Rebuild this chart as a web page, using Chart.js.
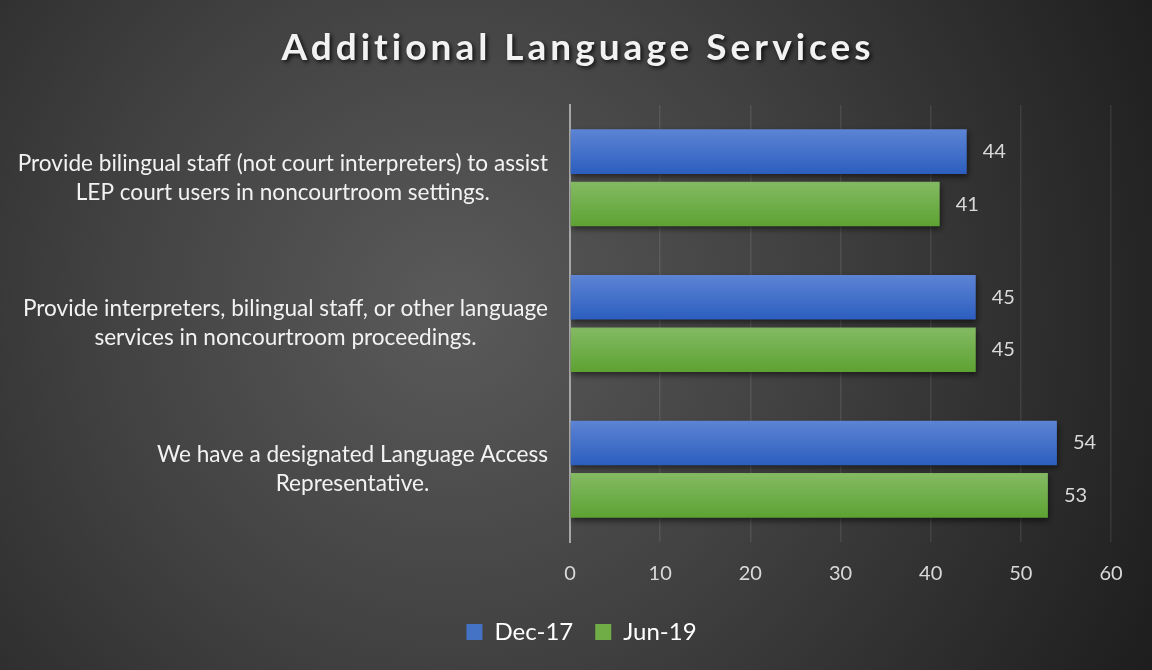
<!DOCTYPE html>
<html>
<head>
<meta charset="utf-8">
<script src="https://cdn.jsdelivr.net/npm/chart.js@4/dist/chart.umd.min.js"></script>
<style>
  html, body { margin: 0; padding: 0; background: #2b2b2b; }
  #wrap { position: relative; width: 1152px; height: 670px; }
</style>
</head>
<body>
<div id="wrap"><canvas id="myChart" width="1152" height="670"></canvas></div>
<script>
const chartTitle = "Additional Language Services";
const categories = [
  ["Provide bilingual staff (not court interpreters) to assist", "LEP court users in noncourtroom settings."],
  ["Provide interpreters, bilingual staff, or other language", "services in noncourtroom proceedings."],
  ["We have a designated Language Access", "Representative."]
];
const seriesNames = ["Dec-17", "Jun-19"];
const dec17 = [44, 45, 54];
const jun19 = [41, 45, 53];
const xTicks = [0, 10, 20, 30, 40, 50, 60];

const FONT = "Lato, 'Open Sans', sans-serif";
const CAT_PCT = 0.72, BAR_PCT = 0.85;

// vertical gradient per bar, computed from the category scale
function barFill(top, bottom) {
  return function (ctx) {
    const chart = ctx.chart, y = chart.scales.y;
    if (!y || ctx.dataIndex === undefined) return bottom;
    const c = y.getPixelForValue(ctx.dataIndex);
    const band = Math.abs(y.getPixelForValue(1) - y.getPixelForValue(0));
    if (!isFinite(c) || !isFinite(band) || band === 0) return bottom;
    const slot = band * CAT_PCT / 2;
    const mid = c - band * CAT_PCT / 2 + slot * (ctx.datasetIndex + 0.5);
    const h = slot * BAR_PCT / 2;
    const g = chart.ctx.createLinearGradient(0, mid - h, 0, mid + h);
    g.addColorStop(0, top);
    g.addColorStop(1, bottom);
    return g;
  };
}

const bgPlugin = {
  id: 'bg',
  afterLayout(chart) {
    // legend sits centred on the whole picture, not on the plot
    const lg = chart.legend;
    if (lg) { lg.left += 26; lg.right += 26; lg.top -= 8; lg.bottom -= 8; }
  },
  beforeDraw(chart) {
    const { ctx, width, height } = chart;
    ctx.save();
    const g = ctx.createRadialGradient(450, 310, 0, 450, 310, 780);
    g.addColorStop(0, '#5a5a5a');
    g.addColorStop(0.45, '#414141');
    g.addColorStop(1, '#1e1e1e');
    ctx.fillStyle = g;
    ctx.fillRect(0, 0, width, height);
    // title
    ctx.font = "bold 37px " + FONT;
    ctx.letterSpacing = '4px';
    ctx.textAlign = 'center';
    ctx.textBaseline = 'middle';
    ctx.shadowColor = 'rgba(0,0,0,0.8)';
    ctx.shadowBlur = 4;
    ctx.shadowOffsetX = 2;
    ctx.shadowOffsetY = 2;
    ctx.fillStyle = '#f2f2f2';
    ctx.fillText(chartTitle, width / 2 + 2, 48);
    ctx.restore();
  }
};

const shadowPlugin = {
  id: 'barShadow',
  beforeDatasetsDraw(chart) {
    const ctx = chart.ctx;
    ctx.save();
    ctx.shadowColor = 'rgba(0,0,0,0.55)';
    ctx.shadowBlur = 6;
    ctx.shadowOffsetY = 3;
    ctx.shadowOffsetX = 1;
  },
  afterDatasetsDraw(chart) {
    const ctx = chart.ctx;
    ctx.restore();
    // value labels
    ctx.save();
    ctx.font = "20px " + FONT;
    ctx.fillStyle = '#d9d9d9';
    ctx.textAlign = 'left';
    ctx.textBaseline = 'middle';
    chart.data.datasets.forEach((ds, di) => {
      chart.getDatasetMeta(di).data.forEach((bar, i) => {
        ctx.fillText(ds.data[i], bar.x + 16, bar.y);
      });
    });
    // category labels: block right aligned, lines centered
    const y = chart.scales.y;
    const right = chart.chartArea.left - 22;
    ctx.font = "22.6px " + FONT;
    ctx.fillStyle = '#f2f2f2';
    ctx.textAlign = 'center';
    const lh = 29;
    categories.forEach((lines, i) => {
      const w = Math.max(...lines.map(l => ctx.measureText(l).width));
      const cx = right - w / 2;
      const cy = y.getPixelForValue(i);
      lines.forEach((l, k) => {
        ctx.fillText(l, cx, cy + (k - (lines.length - 1) / 2) * lh);
      });
    });
    ctx.restore();
  }
};

new Chart(document.getElementById('myChart'), {
  type: 'bar',
  data: {
    labels: categories,
    datasets: [
      {
        label: seriesNames[0],
        data: dec17,
        backgroundColor: barFill('#5d84d4', '#2c5ebf'),
        categoryPercentage: CAT_PCT,
        barPercentage: BAR_PCT
      },
      {
        label: seriesNames[1],
        data: jun19,
        backgroundColor: barFill('#84ba64', '#5da232'),
        categoryPercentage: CAT_PCT,
        barPercentage: BAR_PCT
      }
    ]
  },
  plugins: [bgPlugin, shadowPlugin],
  options: {
    indexAxis: 'y',
    responsive: false,
    animation: false,
    layout: { padding: { top: 105, right: 41, bottom: 8 } },
    scales: {
      x: {
        min: 0,
        max: 60,
        afterBuildTicks(scale) { scale.ticks = xTicks.map(v => ({ value: v })); },
        grid: { color: 'rgba(255,255,255,0.09)', lineWidth: 1.5, drawTicks: false },
        border: { display: false },
        ticks: { color: '#d9d9d9', font: { family: FONT, size: 20 }, padding: 20 }
      },
      y: {
        afterFit(scale) { scale.width = 570; },
        grid: { display: false },
        border: { display: true, color: '#a6a6a6', width: 2 },
        ticks: { display: false }
      }
    },
    plugins: {
      title: { display: false },
      tooltip: { enabled: false },
      legend: {
        position: 'bottom',
        labels: {
          color: '#ffffff',
          font: { family: FONT, size: 24 },
          boxWidth: 16,
          boxHeight: 16,
          padding: 22,
          generateLabels(chart) {
            const cols = ['#4472c4', '#70ad47'];
            return Chart.defaults.plugins.legend.labels.generateLabels(chart).map((l, i) => {
              l.fillStyle = cols[i];
              l.strokeStyle = cols[i];
              l.lineWidth = 0;
              return l;
            });
          }
        }
      }
    }
  }
});
</script>
</body>
</html>
